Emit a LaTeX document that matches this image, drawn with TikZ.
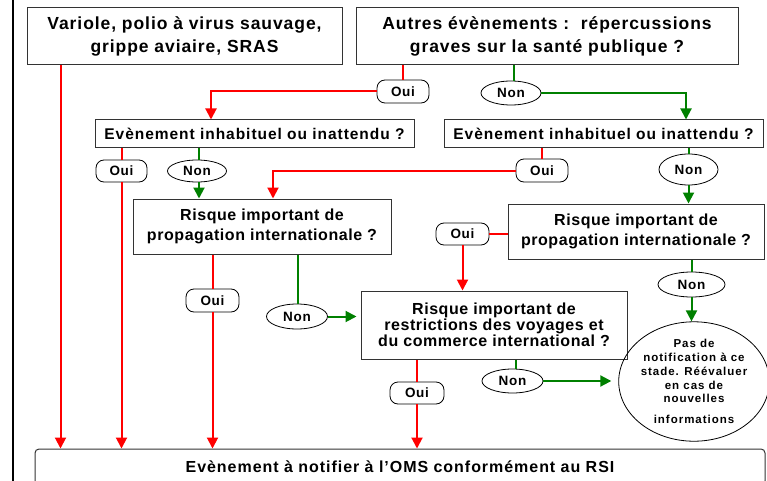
\documentclass[tikz,border=0pt]{standalone}
\usepackage{fontspec}
\setmainfont{Liberation Sans}
\usetikzlibrary{arrows.meta,shapes.geometric,calc}
\definecolor{rl}{RGB}{255,0,0}
\definecolor{gl}{RGB}{0,128,0}
\begin{document}
\begin{tikzpicture}[x=1pt,y=-1pt,
  box/.style={draw=black!80, line width=1pt, rectangle, inner sep=0pt, align=center},
  fbig/.style={font=\bfseries\fontsize{17.5}{23}\selectfont\addfontfeatures{LetterSpace=5.3}},
  fmid/.style={font=\bfseries\fontsize{16}{20}\selectfont\addfontfeatures{LetterSpace=3.5}},
  fe/.style={font=\bfseries\fontsize{15.5}{18}\selectfont\addfontfeatures{LetterSpace=6.2}},
  flab/.style={font=\bfseries\fontsize{13.5}{15}\selectfont\addfontfeatures{LetterSpace=5}},
  pill/.style={draw=black, line width=0.8pt, rectangle, rounded corners=8pt, inner sep=0pt, flab, fill=white},
  oval/.style={draw=black, line width=0.8pt, ellipse, inner sep=0pt, flab, fill=white},
  redl/.style={draw=rl, line width=2pt},
  grnl/.style={draw=gl, line width=2pt},
  tip/.style={-{Triangle[width=11pt,length=11pt]}},
]
\useasboundingbox (0,0) rectangle (767,481);
\clip (0,0) rectangle (767,481);
\draw[line width=2.7pt] (13,-2) -- (13,483);

% boxes
\node[box,fbig,minimum width=315pt,minimum height=57pt] (b1) at (184.5,36.5) {Variole, polio à virus sauvage,\\grippe aviaire, SRAS};
\node[box,fbig,minimum width=382pt,minimum height=57pt] (b2) at (547,36.5) {Autres évènements :\ \ répercussions\\graves sur la santé publique ?};
\node[box,fe,minimum width=319pt,minimum height=28pt] (e1) at (254.5,134) {Evènement inhabituel ou inattendu ?};
\node[box,fe,minimum width=319pt,minimum height=28pt] (e2) at (603.5,134) {Evènement inhabituel ou inattendu ?};
\node[box,fmid,minimum width=258pt,minimum height=55pt] (r1) at (262,226.5) {Risque important de\\propagation internationale ?};
\node[box,fmid,minimum width=256pt,minimum height=55pt] (r3) at (636,231.5) {Risque important de\\propagation internationale ?};
\node[box,font=\bfseries\fontsize{16}{16}\selectfont\addfontfeatures{LetterSpace=3.5},minimum width=266pt,minimum height=68pt] (r2) at (494,325) {Risque important de\\restrictions des voyages et\\du commerce international ?};
\node[draw=black, line width=0.8pt, ellipse, minimum width=144pt, minimum height=113pt, inner sep=0pt, align=center, font=\bfseries\fontsize{11.5}{13.8}\selectfont\addfontfeatures{LetterSpace=8.5}] (circ) at (694,381.5) {Pas de\\notification à ce\\stade. Réévaluer\\en cas de\\nouvelles\\[7pt]informations};
\node[draw=black!80, line width=1pt, rectangle, rounded corners=4pt, minimum width=730pt, minimum height=36pt, inner sep=0pt, font=\bfseries\fontsize{16}{18}\selectfont\addfontfeatures{LetterSpace=6}] (bot) at (400,467) {Evènement à notifier à l'OMS conformément au RSI};

% labels
\node[pill,minimum width=52pt,minimum height=23pt] (oui0) at (403,91.5) {Oui};
\node[oval,minimum width=60pt,minimum height=24pt] (non0) at (511,93) {Non};
\node[pill,minimum width=51pt,minimum height=22pt] (oui1) at (121.5,171) {Oui};
\node[oval,minimum width=59pt,minimum height=22pt] (non1) at (197,171) {Non};
\node[pill,minimum width=52pt,minimum height=23pt] (oui2) at (542,170.5) {Oui};
\node[oval,minimum width=59pt,minimum height=31pt] (non2) at (688.5,169.5) {Non};
\node[pill,minimum width=53pt,minimum height=23pt] (oui3) at (212.5,300.5) {Oui};
\node[oval,minimum width=61pt,minimum height=25pt] (non3) at (297,316.5) {Non};
\node[pill,minimum width=53pt,minimum height=22pt] (oui4) at (462.5,234) {Oui};
\node[oval,minimum width=67pt,minimum height=25pt] (non4) at (691.5,284.5) {Non};
\node[pill,minimum width=54pt,minimum height=22pt] (oui5) at (417,393) {Oui};
\node[oval,minimum width=61pt,minimum height=24pt] (non5) at (512.5,381) {Non};

% connectors
\coordinate (c1) at ($(b1.south west)+(34,0)$);
\draw[redl,tip] (c1) -- (c1 |- bot.north);
\draw[redl] (b2.south -| oui0.north) -- (oui0.north);
\draw[redl,tip] (oui0.west) -| (e1.north -| 211,0);
\draw[grnl] (b2.south -| 514,0) -- (non0.north -| 514,0);
\draw[grnl,tip] (non0.east) -| (e2.north -| 686,0);
\draw[redl] (e1.south -| oui1.north) -- (oui1.north);
\draw[redl,tip] (oui1.south) -- (oui1.south |- bot.north);
\draw[grnl] (e1.south -| 199,0) -- (non1.north -| 199,0);
\draw[grnl,tip] (non1.south -| 199,0) -- (r1.north -| 199,0);
\draw[redl] (e2.south -| oui2.north) -- (oui2.north);
\draw[redl,tip] (oui2.west) -| (r1.north -| 273,0);
\draw[grnl] (e2.south -| non2.north) -- (non2.north);
\draw[grnl,tip] (non2.south) -- (non2.south |- r3.north);
\draw[redl] (r1.south -| oui3.north) -- (oui3.north);
\draw[redl,tip] (oui3.south) -- (oui3.south |- bot.north);
\draw[grnl] (r1.south -| 298,0) -- (non3.north -| 298,0);
\draw[grnl,tip,shorten >=4pt] (non3.east) -- (non3.east -| r2.west);
\draw[redl] (r3.west |- oui4.east) -- (oui4.east);
\draw[redl,tip] (oui4.south) -- (oui4.south |- r2.north);
\draw[grnl] (r3.south -| non4.north) -- (non4.north);
\draw[grnl,tip] (non4.south) -- (non4.south |- circ.north);
\draw[redl] (r2.south -| oui5.north) -- (oui5.north);
\draw[redl,tip] (oui5.south) -- (oui5.south |- bot.north);
\draw[grnl] (r2.south -| 516,0) -- (non5.north -| 516,0);
\draw[grnl,tip,shorten >=7pt] (non5.east) -- (non5.east -| circ.west);
\end{tikzpicture}
\end{document}
